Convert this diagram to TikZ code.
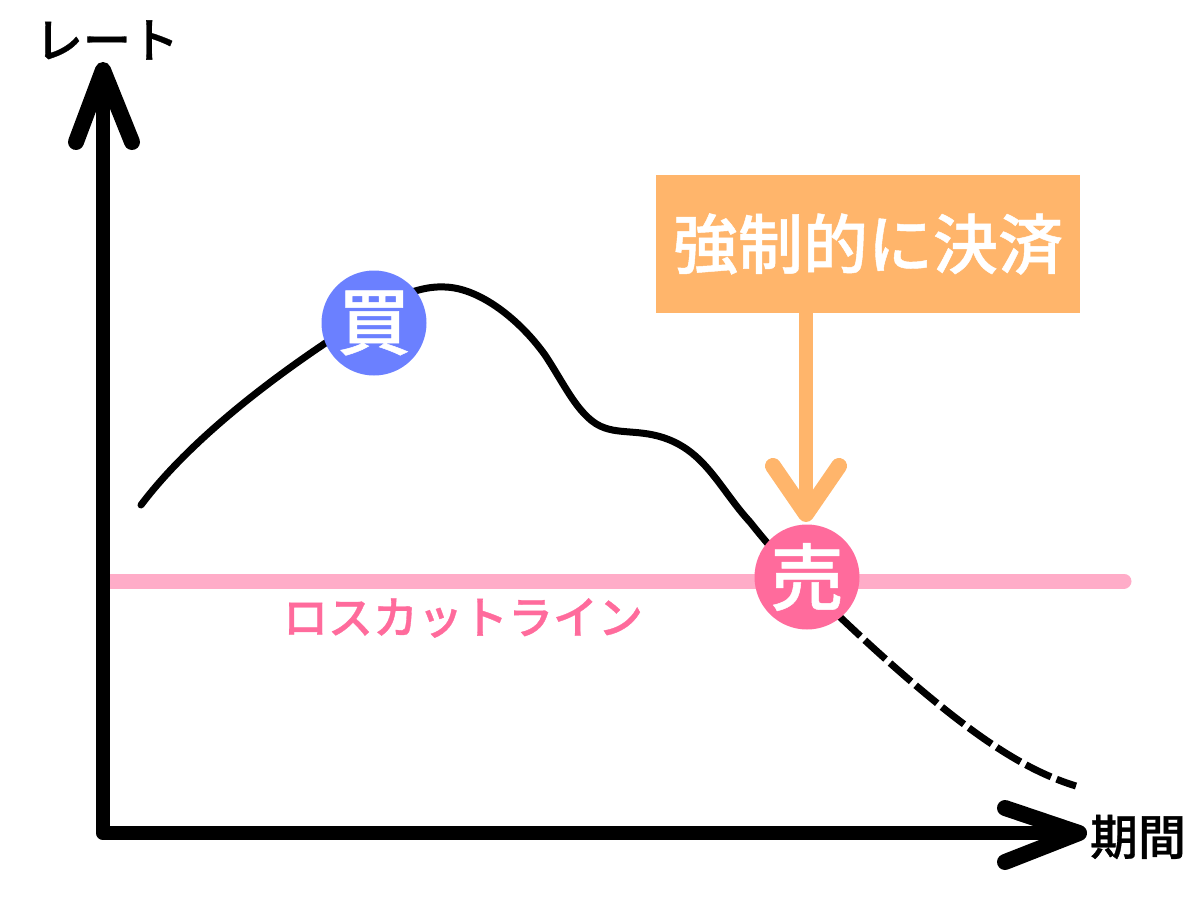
\documentclass[tikz,border=0pt]{standalone}
\usepackage{fontspec}
\setmainfont{Noto Sans CJK JP}[BoldFont={Noto Sans CJK JP Bold}]
\newfontfamily\midfont[FakeBold=0.7]{Noto Sans CJK JP Medium}
\definecolor{orangeb}{HTML}{FFB56B}
\definecolor{pinkl}{HTML}{FFACC8}
\definecolor{pinkd}{HTML}{FF6B9C}
\definecolor{bluec}{HTML}{6B80FF}
\begin{document}
\begin{tikzpicture}[x=1pt,y=-1pt,
  axisline/.style={line width=14.5pt,line cap=round,line join=round},
  headline/.style={line width=16pt,line cap=round,line join=round},
  lab/.style={inner sep=0pt},
  badge/.style={circle,minimum size=105pt,inner sep=0pt,text=white,font=\midfont\fontsize{73}{73}\selectfont}]
\useasboundingbox (0,0) rectangle (1200,900);
% price curve
\draw[line width=7pt,line cap=round,line join=round] (141,505) .. controls (190,440) and (270,380) .. (330,340) .. controls (370,310) and (410,285) .. (445,287) .. controls (480,288) and (520,320) .. (545,355) .. controls (565,385) and (580,420) .. (605,428) .. controls (625,435) and (650,428) .. (680,445) .. controls (710,462) and (725,495) .. (750,522) .. controls (780,560) and (810,590) .. (840,617);
\draw[line width=7pt,dash pattern=on 28pt off 6pt] (840,617) .. controls (880,655) and (925,695) .. (965,725) .. controls (1005,755) and (1040,775) .. (1076,786);
% loss-cut line
\coordinate (la) at (108,581);
\coordinate (lb) at (1124,581);
\draw[pinkl,line width=15pt,line cap=round] (la) -- (lb);
% axes
\coordinate (origin) at (103,833);
\coordinate (ytop) at (103,70);
\coordinate (xend) at (1079,833);
\draw[axisline] (ytop) -- (origin) -- (xend);
\draw[headline] (76,142) -- (ytop) -- (132,142);
\draw[headline] (1005,808) -- (xend) -- (1005,862);
% callout
\node[fill=orangeb,minimum width=424pt,minimum height=138pt,inner sep=0pt,text=white,font=\midfont\fontsize{65}{65}\selectfont] (call) at (868,244) {強制的に決済};
\node[badge,fill=bluec] (buy) at (374,323) {買};
\node[badge,fill=pinkd] (sell) at (807,577) {売};
\coordinate (tip) at (806,514);
\draw[orangeb,line width=14.5pt] (call.south -| tip) -- (tip);
\draw[orangeb,line width=16pt,line cap=round,line join=round] (773,466) -- (tip) -- (839,466);
% labels
\node[lab,text=pinkd,font=\midfont\fontsize{45}{45}\selectfont] (losscut) at (463,618) {ロスカットライン};
\node[lab,font=\midfont\fontsize{48}{48}\selectfont] (rate) at (107,40) {レート};
\node[lab,font=\midfont\fontsize{48}{48}\selectfont] (term) at (1138,837) {期間};
\end{tikzpicture}
\end{document}
